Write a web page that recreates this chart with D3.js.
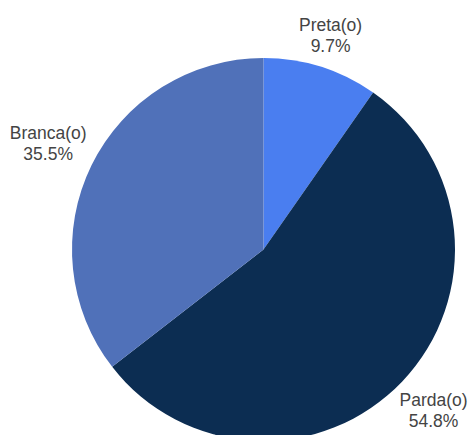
<!DOCTYPE html>
<html>
<head>
<meta charset="utf-8">
<script src="https://cdn.jsdelivr.net/npm/d3@7"></script>
<style>
  html, body { margin: 0; padding: 0; background: #fff; }
  svg { display: block; }
</style>
</head>
<body>
<svg id="chart" width="473" height="435"></svg>
<script>
// Slices, clockwise from 12 o'clock
const categories = ["Preta(o)", "Parda(o)", "Branca(o)"];
const shares = [9.7, 54.8, 35.5];
const valueLabels = ["9.7%", "54.8%", "35.5%"];
const colors = ["#4a7ef0", "#0c2d52", "#5071b9"];

const width = 473, height = 435;
const cx = 263.5, cy = 249.5, radius = 191.5;

const svg = d3.select("#chart");
const g = svg.append("g").attr("transform", `translate(${cx},${cy})`);

const data = categories.map((c, i) => ({ name: c, value: shares[i], label: valueLabels[i], color: colors[i] }));

const pie = d3.pie().value(d => d.value).sort(null);
const arc = d3.arc().innerRadius(0).outerRadius(radius);
const arcs = pie(data);

g.selectAll("path.slice")
  .data(arcs)
  .join("path")
  .attr("class", "slice")
  .attr("d", arc)
  .attr("fill", d => d.data.color);

// Labels: two-line text block pushed outward along the slice's mid-angle
// until its nearest corner clears the rim by a small gap.
const fontSize = 17.5, lineGap = 21, clearR = radius + 5;
const labels = g.selectAll("text.lbl")
  .data(arcs)
  .join("text")
  .attr("class", "lbl")
  .attr("text-anchor", "middle")
  .attr("font-family", "'Liberation Sans', Arial, sans-serif")
  .attr("font-size", fontSize)
  .attr("fill", "#444");

labels.append("tspan").attr("class", "l1").attr("x", 0).text(d => d.data.name);
labels.append("tspan").attr("class", "l2").attr("x", 0).text(d => d.data.label);

labels.each(function(d) {
  const t = d3.select(this);
  const w = this.getBBox().width;
  const hw = w / 2, hh = 20;
  const a = (d.startAngle + d.endAngle) / 2;
  const ux = Math.sin(a), uy = -Math.cos(a);
  const dx = Math.sign(ux) * hw, dy = Math.sign(uy) * hh;
  const ud = ux * dx + uy * dy;
  const dist = ud + Math.sqrt(ud * ud - (dx * dx + dy * dy) + clearR * clearR);
  const px = ux * dist, py = uy * dist;
  t.selectAll("tspan").attr("x", px);
  t.select(".l1").attr("y", py - 5.5);
  t.select(".l2").attr("y", py - 5.5 + lineGap);
});
</script>
</body>
</html>
